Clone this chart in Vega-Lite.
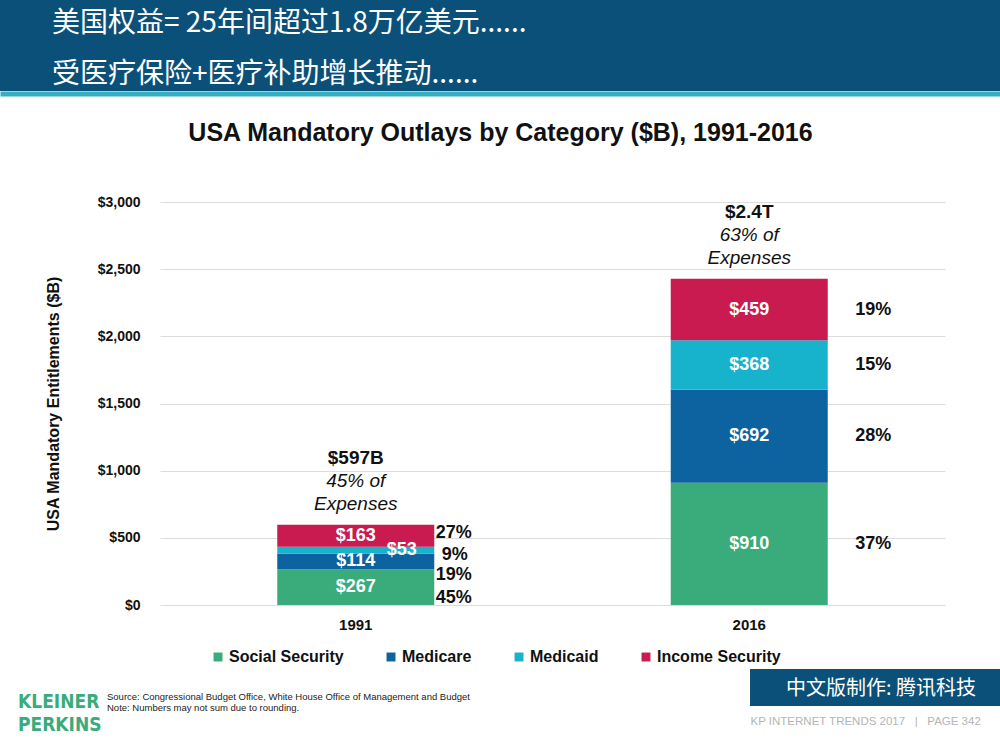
{
  "$schema": "https://vega.github.io/schema/vega-lite/v6.json",
  "description": "USA mandatory outlays by category, 1991 vs 2016, stacked bars.",
  "background": "white",
  "padding": 0,
  "spacing": 49,
  "config": {
    "view": {"stroke": null},
    "font": "Liberation Sans"
  },
  "vconcat": [
    {
      "width": 1000,
      "height": 91,
      "view": {"fill": "#0a5078", "stroke": null},
      "title": {
        "text": ["美国权益= 25年间超过1.8万亿美元......", "受医疗保险+医疗补助增长推动......"],
        "orient": "top",
        "anchor": "start",
        "frame": "group",
        "baseline": "top",
        "offset": -89,
        "dx": 52,
        "font": "Noto Sans CJK SC",
        "fontSize": 28,
        "fontWeight": "normal",
        "lineHeight": 51,
        "color": "white"
      },
      "data": {"values": [{"v": 0}]},
      "mark": {"type": "text", "text": ""},
      "encoding": {
        "x": {
          "field": "v",
          "type": "quantitative",
          "scale": {"domain": [0, 1]},
          "axis": {
            "labels": false,
            "ticks": false,
            "grid": false,
            "domainColor": "#35aec2",
            "domainWidth": 5,
            "domainCap": "butt",
            "offset": 2.5,
            "title": "USA Mandatory Outlays by Category ($B), 1991-2016",
            "titleFontSize": 25,
            "titleFontWeight": "bold",
            "titleColor": "#111111",
            "titlePadding": 27
          }
        }
      }
    },
    {
      "spacing": 37,
      "vconcat": [
        {
          "spacing": 0,
          "hconcat": [
            {
              "width": 45,
              "height": 10,
              "data": {"values": [{}]},
              "mark": {"type": "text", "text": ""}
            },
            {
              "width": 785,
              "height": 403,
              "data": {
                "values": [
                  {"year": 1991, "category": "Social Security", "value": 267, "pct": "45%"},
                  {"year": 1991, "category": "Medicare", "value": 114, "pct": "19%"},
                  {"year": 1991, "category": "Medicaid", "value": 53, "pct": "9%"},
                  {"year": 1991, "category": "Income Security", "value": 163, "pct": "27%"},
                  {"year": 2016, "category": "Social Security", "value": 910, "pct": "37%"},
                  {"year": 2016, "category": "Medicare", "value": 692, "pct": "28%"},
                  {"year": 2016, "category": "Medicaid", "value": 368, "pct": "15%"},
                  {"year": 2016, "category": "Income Security", "value": 459, "pct": "19%"}
                ]
              },
              "encoding": {
                "x": {
                  "field": "year",
                  "type": "ordinal",
                  "scale": {"paddingInner": 0.601, "paddingOuter": 0.298},
                  "axis": {
                    "title": null,
                    "labelAngle": 0,
                    "labelFontSize": 15,
                    "labelFontWeight": "bold",
                    "labelColor": "#111111",
                    "labelPadding": 12,
                    "ticks": false,
                    "domain": false
                  }
                },
                "y": {
                  "field": "value",
                  "type": "quantitative",
                  "stack": "zero",
                  "scale": {"domain": [0, 3000]},
                  "axis": {
                    "title": "USA Mandatory Entitlements ($B)",
                    "titleFontSize": 16,
                    "titleFontWeight": "bold",
                    "titleColor": "#111111",
                    "titlePadding": 36,
                    "values": [0, 500, 1000, 1500, 2000, 2500, 3000],
                    "format": "$,.0f",
                    "labelFontSize": 14,
                    "labelFontWeight": "bold",
                    "labelColor": "#111111",
                    "labelPadding": 20,
                    "ticks": false,
                    "domain": false,
                    "grid": true,
                    "gridColor": "#dcdcdc"
                  }
                },
                "order": {"field": "category", "sort": "descending"}
              },
              "layer": [
                {
                  "mark": {"type": "bar"},
                  "encoding": {
                    "color": {
                      "field": "category",
                      "type": "nominal",
                      "scale": {
                        "domain": ["Social Security", "Medicare", "Medicaid", "Income Security"],
                        "range": ["#3aab7b", "#0d62a0", "#17b3cc", "#c91b50"]
                      },
                      "legend": {
                        "orient": "none",
                        "legendX": 210,
                        "legendY": 649,
                        "direction": "horizontal",
                        "title": null,
                        "symbolType": "square",
                        "symbolSize": 80,
                        "symbolStrokeWidth": 0,
                        "labelFontSize": 16,
                        "labelFontWeight": "bold",
                        "labelColor": "#111111",
                        "labelOffset": 3,
                        "columnPadding": 39
                      }
                    }
                  }
                },
                {
                  "mark": {"type": "text", "color": "white", "fontSize": 18, "fontWeight": "bold", "baseline": "middle"},
                  "encoding": {
                    "y": {"field": "value", "type": "quantitative", "stack": "zero", "bandPosition": 0.5},
                    "detail": {"field": "category"},
                    "text": {
                      "condition": {"test": "datum.year == 1991 && datum.category == 'Medicaid'", "value": ""},
                      "field": "value",
                      "type": "quantitative",
                      "format": "$,.0f"
                    }
                  }
                },
                {
                  "mark": {"type": "text", "color": "white", "fontSize": 18, "fontWeight": "bold", "baseline": "middle", "dx": 46},
                  "encoding": {
                    "y": {"field": "value", "type": "quantitative", "stack": "zero", "bandPosition": 0.5},
                    "detail": {"field": "category"},
                    "text": {
                      "condition": {"test": "datum.year == 1991 && datum.category == 'Medicaid'", "field": "value", "type": "quantitative", "format": "$,.0f"},
                      "value": ""
                    }
                  }
                },
                {
                  "mark": {"type": "text", "color": "#111111", "fontSize": 18, "fontWeight": "bold", "baseline": "middle", "align": "left", "dx": 106},
                  "encoding": {
                    "y": {"field": "value", "type": "quantitative", "stack": "zero", "bandPosition": 0.5},
                    "detail": {"field": "category"},
                    "text": {"condition": {"test": "datum.year == 2016", "field": "pct"}, "value": ""}
                  }
                },
                {
                  "mark": {"type": "text", "color": "#111111", "fontSize": 18, "fontWeight": "bold", "baseline": "middle", "align": "left", "dx": 80, "dy": 11},
                  "encoding": {
                    "y": {"field": "value", "type": "quantitative", "stack": "zero", "bandPosition": 0.5},
                    "detail": {"field": "category"},
                    "text": {"condition": {"test": "datum.year == 1991 && datum.category == 'Social Security'", "field": "pct"}, "value": ""}
                  }
                },
                {
                  "mark": {"type": "text", "color": "#111111", "fontSize": 18, "fontWeight": "bold", "baseline": "middle", "align": "left", "dx": 80, "dy": 14},
                  "encoding": {
                    "y": {"field": "value", "type": "quantitative", "stack": "zero", "bandPosition": 0.5},
                    "detail": {"field": "category"},
                    "text": {"condition": {"test": "datum.year == 1991 && datum.category == 'Medicare'", "field": "pct"}, "value": ""}
                  }
                },
                {
                  "mark": {"type": "text", "color": "#111111", "fontSize": 18, "fontWeight": "bold", "baseline": "middle", "align": "left", "dx": 86, "dy": 5},
                  "encoding": {
                    "y": {"field": "value", "type": "quantitative", "stack": "zero", "bandPosition": 0.5},
                    "detail": {"field": "category"},
                    "text": {"condition": {"test": "datum.year == 1991 && datum.category == 'Medicaid'", "field": "pct"}, "value": ""}
                  }
                },
                {
                  "mark": {"type": "text", "color": "#111111", "fontSize": 18, "fontWeight": "bold", "baseline": "middle", "align": "left", "dx": 80, "dy": -3},
                  "encoding": {
                    "y": {"field": "value", "type": "quantitative", "stack": "zero", "bandPosition": 0.5},
                    "detail": {"field": "category"},
                    "text": {"condition": {"test": "datum.year == 1991 && datum.category == 'Income Security'", "field": "pct"}, "value": ""}
                  }
                },
                {
                  "data": {
                    "values": [
                      {"year": 1991, "total": 597, "head": "$597B", "note": "45% of\nExpenses"},
                      {"year": 2016, "total": 2429, "head": "$2.4T", "note": "63% of\nExpenses"}
                    ]
                  },
                  "layer": [
                    {
                      "mark": {"type": "text", "color": "#111111", "fontSize": 19, "fontWeight": "bold", "baseline": "bottom", "dy": -57},
                      "encoding": {
                        "y": {"field": "total", "type": "quantitative"},
                        "text": {"field": "head"}
                      }
                    },
                    {
                      "mark": {"type": "text", "color": "#111111", "fontSize": 19, "fontStyle": "italic", "baseline": "bottom", "dy": -34, "lineBreak": "\n", "lineHeight": 23},
                      "encoding": {
                        "y": {"field": "total", "type": "quantitative"},
                        "text": {"field": "note"}
                      }
                    }
                  ]
                }
              ]
            }
          ]
        },
        {
          "spacing": 0,
          "hconcat": [
            {
              "width": 100,
              "height": 66,
              "title": {
                "text": ["KLEINER", "PERKINS"],
                "orient": "top",
                "anchor": "start",
                "frame": "group",
                "baseline": "top",
                "offset": -66,
                "dx": 18,
                "font": "Liberation Sans Narrow, DejaVu Sans Condensed, Liberation Sans",
                "fontSize": 19,
                "fontWeight": "bold",
                "lineHeight": 23,
                "color": "#3aab7b"
              },
              "data": {"values": [{}]},
              "mark": {"type": "text", "text": ""}
            },
            {
              "width": 648,
              "height": 66,
              "title": {
                "text": ["Source: Congressional Budget Office, White House Office of Management and Budget", "Note: Numbers may not sum due to rounding."],
                "orient": "top",
                "anchor": "start",
                "frame": "group",
                "baseline": "top",
                "offset": -43,
                "dx": 5,
                "fontSize": 9.5,
                "fontWeight": "normal",
                "lineHeight": 10.5,
                "color": "#222222"
              },
              "data": {"values": [{}]},
              "mark": {"type": "text", "text": ""}
            },
            {
              "width": 252,
              "height": 37,
              "view": {"fill": "#0a5078", "stroke": null},
              "title": {
                "text": "中文版制作: 腾讯科技",
                "orient": "top",
                "anchor": "middle",
                "frame": "group",
                "baseline": "middle",
                "offset": -40,
                "dx": 5,
                "font": "Noto Sans CJK SC",
                "fontSize": 20,
                "fontWeight": "normal",
                "color": "white"
              },
              "data": {"values": [{"v": 0}]},
              "mark": {"type": "text", "text": ""},
              "encoding": {
                "x": {
                  "field": "v",
                  "type": "quantitative",
                  "scale": {"domain": [0, 1]},
                  "axis": {
                    "labels": false,
                    "ticks": false,
                    "grid": false,
                    "domain": false,
                    "title": "KP INTERNET TRENDS 2017\u00a0\u00a0\u00a0|\u00a0\u00a0\u00a0PAGE 342",
                    "titleFontSize": 11.5,
                    "titleFontWeight": "normal",
                    "titleColor": "#b5b5b5",
                    "titleAnchor": "start",
                    "titlePadding": 9
                  }
                }
              }
            }
          ]
        }
      ]
    }
  ]
}
